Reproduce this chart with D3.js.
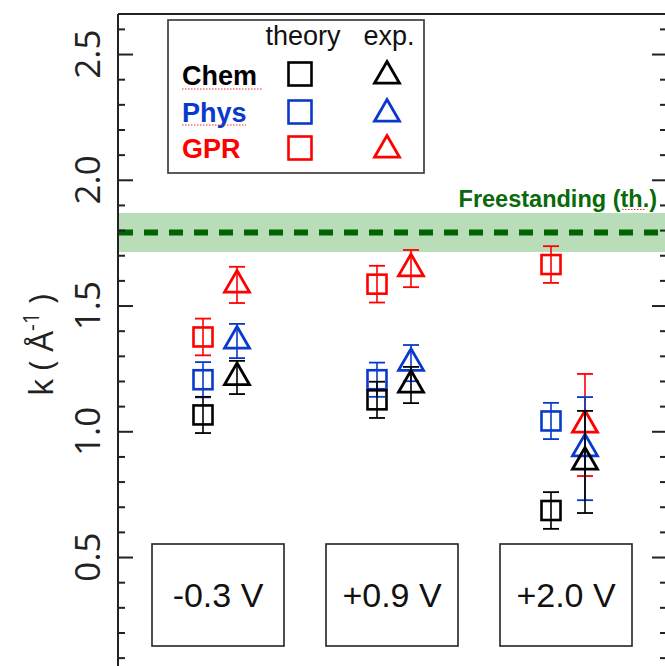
<!DOCTYPE html>
<html><head><meta charset="utf-8">
<script src="https://cdn.jsdelivr.net/npm/d3@7"></script>
<style>body{margin:0;background:#fff}svg{display:block}</style>
</head><body>
<svg id="c" width="665" height="666"></svg>
<script>
// ---------- data ----------
const categories = ["-0.3 V", "+0.9 V", "+2.0 V"];
const methods = ["Chem", "Phys", "GPR"];
const methodColors = ["#000000", "#0a3acc", "#ff0000"];
const theoryChem    = [1.065, 1.125, 0.685];
const theoryChemErr = [0.072, 0.072, 0.073];
const theoryPhys    = [1.205, 1.205, 1.041];
const theoryPhysErr = [0.070, 0.068, 0.072];
const theoryGPR     = [1.375, 1.585, 1.663];
const theoryGPRErr  = [0.073, 0.073, 0.073];
const expChem       = [1.214, 1.184, 0.878];
const expChemErr    = [0.066, 0.072, 0.203];
const expPhys       = [1.359, 1.271, 0.931];
const expPhysErr    = [0.068, 0.072, 0.205];
const expGPR        = [1.582, 1.647, 1.025];
const expGPRErr     = [0.072, 0.074, 0.203];
const freestanding = 1.79;
const freestandingBand = [1.713, 1.868];
const freestandingLabel = "Freestanding (th.)";
const yTicks = [0.5, 1.0, 1.5, 2.0, 2.5];
const yMinorTicks = [0.1,0.2,0.3,0.4,0.6,0.7,0.8,0.9,1.1,1.2,1.3,1.4,1.6,1.7,1.8,1.9,2.1,2.2,2.3,2.4,2.6];

// ---------- layout ----------
const svg = d3.select("#c");
const L = 118, R = 667, T = 14;
const y = d3.scaleLinear().domain([0.05, 2.66]).range([670.2, 13.8]);
const x = d3.scalePoint().domain(categories).range([220, 568]);
const off = 17;

// freestanding band + dashed line
svg.append("rect").attr("x", L).attr("width", R - L)
  .attr("y", y(freestandingBand[1])).attr("height", y(freestandingBand[0]) - y(freestandingBand[1]))
  .attr("fill", "#b9dcb9");
svg.append("line").attr("x1", L + 1).attr("x2", R).attr("y1", y(freestanding)).attr("y2", y(freestanding))
  .attr("stroke", "#006400").attr("stroke-width", 6).attr("stroke-dasharray", "14,11");
svg.append("text").attr("x", 657).attr("y", 207).attr("text-anchor", "end")
  .attr("font-family", "Liberation Sans, Arial, sans-serif").attr("font-weight", "bold")
  .attr("font-size", 23.5).attr("fill", "#0a6a0a").text(freestandingLabel);
svg.append("line").attr("x1", 622).attr("x2", 645).attr("y1", 209.5).attr("y2", 209.5)
  .attr("stroke", "#e03030").attr("stroke-width", 1).attr("stroke-dasharray", "1.5,1.5");

// axes
const gL = svg.append("g").attr("transform", `translate(${L},0)`);
gL.call(d3.axisRight(y).tickValues(yTicks).tickSize(15).tickFormat(""));
gL.append("g").call(d3.axisRight(y).tickValues(yMinorTicks).tickSize(7).tickFormat(""));
const gR = svg.append("g").attr("transform", `translate(${R},0)`);
gR.call(d3.axisLeft(y).tickValues(yTicks).tickSize(15).tickFormat(""));
gR.append("g").call(d3.axisLeft(y).tickValues(yMinorTicks).tickSize(7).tickFormat(""));
svg.selectAll(".domain").remove();
svg.selectAll(".tick line").attr("stroke", "#222").attr("stroke-width", 2);
svg.append("line").attr("x1", L).attr("x2", L).attr("y1", T).attr("y2", 666).attr("stroke", "#222").attr("stroke-width", 2);
svg.append("line").attr("x1", L).attr("x2", R).attr("y1", T).attr("y2", T).attr("stroke", "#222").attr("stroke-width", 2);

// tick labels
svg.append("g").selectAll("text").data(yTicks).join("text")
  .attr("transform", d => `translate(100,${y(d)}) rotate(-90)`)
  .attr("text-anchor", "middle")
  .attr("font-family", "Open Sans, sans-serif").attr("font-size", 35).attr("fill", "#222")
  .text(d => d.toFixed(1));

// y label
const yl = svg.append("text").attr("transform", "translate(53,345) rotate(-90)")
  .attr("text-anchor", "middle").attr("font-family", "Open Sans, sans-serif")
  .attr("font-size", 33).attr("fill", "#222");
yl.append("tspan").text("k ( Å");
yl.append("tspan").attr("font-size", 21).attr("dy", -14).text("-1");
yl.append("tspan").attr("dy", 14).text(" )");

// voltage boxes
const vb = svg.append("g").selectAll("g").data(categories).join("g");
vb.append("rect").attr("x", d => x(d) - 68).attr("y", 544).attr("width", 132).attr("height", 102)
  .attr("fill", "none").attr("stroke", "#222").attr("stroke-width", 1.6);
vb.append("text").attr("x", d => x(d) - 2).attr("y", 607).attr("text-anchor", "middle")
  .attr("font-family", "Liberation Sans, Arial, sans-serif").attr("font-size", 34).attr("fill", "#111")
  .text(d => d);

// markers
const sq = 19, tri = 25;
const triPath = s => { const h = s * Math.sqrt(3) / 2; return `M0,${-2*h/3}L${s/2},${h/3}L${-s/2},${h/3}Z`; };
const theory = [[theoryChem, theoryChemErr], [theoryPhys, theoryPhysErr], [theoryGPR, theoryGPRErr]];
const exp = [[expChem, expChemErr], [expPhys, expPhysErr], [expGPR, expGPRErr]];
const cap = 8;
function errbar(g, cx, v, e, col) {
  g.append("line").attr("x1", cx).attr("x2", cx).attr("y1", y(v + e)).attr("y2", y(v - e)).attr("stroke", col).attr("stroke-width", 1.6);
  [v + e, v - e].forEach(t => g.append("line").attr("x1", cx - cap).attr("x2", cx + cap).attr("y1", y(t)).attr("y2", y(t)).attr("stroke", col).attr("stroke-width", 1.8));
}
const marks = svg.append("g");
[2, 1, 0].forEach(m => {
  const col = methodColors[m];
  categories.forEach((c, i) => {
    const [tv, te] = [theory[m][0][i], theory[m][1][i]];
    const g = marks.append("g");
    g.append("rect").attr("x", x(c) - off - sq/2).attr("y", y(tv) - sq/2).attr("width", sq).attr("height", sq)
      .attr("fill", "none").attr("stroke", col).attr("stroke-width", 2.6);
    errbar(g, x(c) - off, tv, te, col);
    const [ev, ee] = [exp[m][0][i], exp[m][1][i]];
    g.append("path").attr("d", triPath(tri)).attr("transform", `translate(${x(c) + off},${y(ev)})`)
      .attr("fill", "none").attr("stroke", col).attr("stroke-width", 2.8).attr("stroke-linejoin", "miter");
    errbar(g, x(c) + off, ev, ee, col);
  });
});

// legend
const lg = svg.append("g");
lg.append("rect").attr("x", 168).attr("y", 20).attr("width", 256).attr("height", 153)
  .attr("fill", "#fff").attr("stroke", "#333").attr("stroke-width", 1.6);
lg.append("text").attr("x", 303).attr("y", 45).attr("text-anchor", "middle")
  .attr("font-family", "Liberation Sans, Arial, sans-serif").attr("font-size", 27).attr("fill", "#111").text("theory");
lg.append("text").attr("x", 389).attr("y", 45).attr("text-anchor", "middle")
  .attr("font-family", "Liberation Sans, Arial, sans-serif").attr("font-size", 27).attr("fill", "#111").text("exp.");
const rowY = [74, 112, 148];
const rowBase = [85, 122, 158];
methods.forEach((m, i) => {
  lg.append("text").attr("x", 182).attr("y", rowBase[i]).attr("font-family", "Liberation Sans, Arial, sans-serif")
    .attr("font-weight", "bold").attr("font-size", 27).attr("fill", methodColors[i]).text(m);
  lg.append("rect").attr("x", 300 - 11.5).attr("y", rowY[i] - 11.5).attr("width", 23).attr("height", 23)
    .attr("fill", "none").attr("stroke", methodColors[i]).attr("stroke-width", 2.6);
  lg.append("path").attr("d", triPath(25)).attr("transform", `translate(387,${rowY[i] + 2})`)
    .attr("fill", "none").attr("stroke", methodColors[i]).attr("stroke-width", 2.8);
});
// spell-check style dotted underlines
[[182, 262, 89], [182, 246, 125]].forEach(([a, b, yy]) =>
  lg.append("line").attr("x1", a).attr("x2", b).attr("y1", yy).attr("y2", yy)
    .attr("stroke", "#e03030").attr("stroke-width", 1).attr("stroke-dasharray", "1.5,1.5"));
</script>
</body></html>
